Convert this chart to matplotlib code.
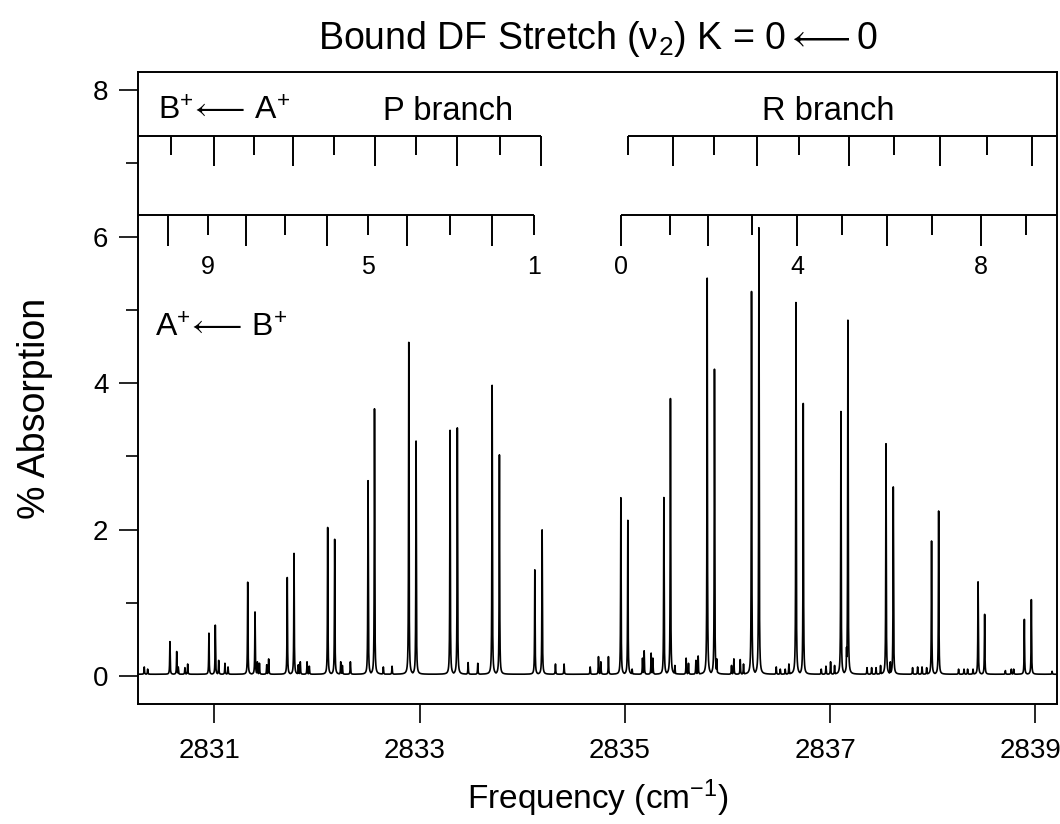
import numpy as np
import matplotlib
matplotlib.use('Agg')
import matplotlib.pyplot as plt
from matplotlib.transforms import ScaledTranslation

plt.rcParams['font.family'] = ['Liberation Sans', 'DejaVu Sans']
plt.rcParams['mathtext.fontset'] = 'custom'
plt.rcParams['mathtext.rm'] = 'Liberation Sans'
plt.rcParams['mathtext.it'] = 'Liberation Sans:italic'
plt.rcParams['mathtext.bf'] = 'Liberation Sans:bold'
plt.rcParams['mathtext.sf'] = 'Liberation Sans'
plt.rcParams['mathtext.fallback'] = 'stixsans'

# ---------------- data ----------------
peak_freq = [
    2830.318, 2830.351, 2830.568, 2830.634, 2830.649, 2830.714, 2830.741,
    2830.948, 2831.010, 2831.043, 2831.104, 2831.134,
    2831.326, 2831.397, 2831.420, 2831.440, 2831.511, 2831.530,
    2831.711, 2831.777, 2831.819, 2831.838, 2831.904, 2831.926,
    2832.105, 2832.173, 2832.232, 2832.248, 2832.326,
    2832.498, 2832.561, 2832.647, 2832.732,
    2832.895, 2832.966, 2833.297, 2833.368, 2833.473, 2833.567,
    2833.707, 2833.778, 2834.123, 2834.194, 2834.324, 2834.408,
    2834.662, 2834.743, 2834.766, 2834.840,
    2834.961, 2835.029, 2835.071, 2835.172, 2835.188, 2835.256, 2835.273,
    2835.380, 2835.444, 2835.487, 2835.597, 2835.620, 2835.692, 2835.714,
    2835.802, 2835.873, 2835.896, 2836.039, 2836.062, 2836.124, 2836.156,
    2836.234, 2836.306, 2836.475, 2836.514, 2836.562, 2836.598,
    2836.667, 2836.738, 2836.913, 2836.959, 2837.004, 2837.043,
    2837.105, 2837.160, 2837.173, 2837.359, 2837.404, 2837.447, 2837.491,
    2837.544, 2837.586, 2837.615, 2837.803, 2837.852, 2837.895, 2837.940,
    2837.988, 2838.057, 2838.251, 2838.304, 2838.339, 2838.392,
    2838.441, 2838.505, 2838.707, 2838.765, 2838.788,
    2838.892, 2838.960, 2839.162,
]
peak_height = [
    0.13, 0.10, 0.475, 0.34, 0.13, 0.12, 0.17,
    0.59, 0.70, 0.22, 0.18, 0.13,
    1.29, 0.88, 0.20, 0.18, 0.16, 0.24,
    1.35, 1.68, 0.16, 0.20, 0.20, 0.14,
    2.035, 1.876, 0.20, 0.15, 0.20,
    2.67, 3.65, 0.13, 0.14,
    4.57, 3.21, 3.37, 3.39, 0.19, 0.18,
    3.97, 3.03, 1.46, 2.00, 0.17, 0.17,
    0.13, 0.27, 0.20, 0.27,
    2.45, 2.13, 0.10, 0.25, 0.35, 0.32, 0.25,
    2.44, 3.80, 0.15, 0.25, 0.18, 0.22, 0.28,
    5.45, 4.19, 0.24, 0.15, 0.24, 0.23, 0.17,
    5.25, 6.12, 0.13, 0.10, 0.10, 0.17,
    5.10, 3.74, 0.10, 0.14, 0.20, 0.15,
    3.63, 0.40, 4.86, 0.12, 0.12, 0.12, 0.15,
    3.18, 0.20, 2.585, 0.12, 0.13, 0.13, 0.12,
    1.85, 2.26, 0.10, 0.10, 0.10, 0.10,
    1.29, 0.85, 0.08, 0.10, 0.10,
    0.78, 1.05, 0.07,
]
baseline = 0.03

# Assignment combs (rotational lines J)
upper_P = [2830.578, 2830.997, 2831.387, 2831.767, 2832.167,
           2832.566, 2832.966, 2833.366, 2833.785, 2834.184]   # P(10)..P(1), B+<-A+
upper_P_J = [10, 9, 8, 7, 6, 5, 4, 3, 2, 1]
upper_R = [2835.032, 2835.471, 2835.870, 2836.289, 2836.699,
           2837.186, 2837.625, 2838.073, 2838.531, 2838.970]   # R(0)..R(9)
upper_R_J = [0, 1, 2, 3, 4, 5, 6, 7, 8, 9]
lower_P = [2830.549, 2830.939, 2831.309, 2831.689, 2832.098,
           2832.498, 2832.878, 2833.297, 2833.706, 2834.115]   # P(10)..P(1), A+<-B+
lower_P_J = [10, 9, 8, 7, 6, 5, 4, 3, 2, 1]
lower_R = [2834.964, 2835.441, 2835.812, 2836.240, 2836.679,
           2837.117, 2837.556, 2837.994, 2838.472, 2838.910]   # R(0)..R(9)
lower_R_J = [0, 1, 2, 3, 4, 5, 6, 7, 8, 9]
labelled_P_J = [9, 5, 1]
labelled_R_J = [0, 4, 8]

x_ticks = [2831, 2833, 2835, 2837, 2839]
y_ticks = [0, 2, 4, 6, 8]

# ---------------- figure ----------------
W, H = 1060, 824
fig = plt.figure(figsize=(W / 100, H / 100), dpi=100)
ax = fig.add_axes([138.3 / W, 1 - 704.3 / H, (1057 - 138.3) / W, (704.3 - 72.3) / H])

xmin, xmax = 2830.26, 2839.21
ymin, ymax = -0.38, 8.24

# spectrum trace from the peak table (narrow Lorentzian line shape)
grid = np.linspace(xmin, xmax, 24000)
gamma = 0.0025
trace = np.full_like(grid, baseline)
for f, h in zip(peak_freq, peak_height):
    prof = baseline + (h - baseline) * gamma ** 2 / ((grid - f) ** 2 + gamma ** 2)
    trace = np.maximum(trace, prof)
ax.plot(grid, trace, color='black', lw=1.2, zorder=3)

# combs
lw_c = 1.4
def comb(pos, Js, yline, long_even, x_from, x_to):
    ax.plot([x_from, x_to], [yline[0], yline[0]], color='black', lw=lw_c,
            solid_capstyle='butt', zorder=2)
    for p, J in zip(pos, Js):
        is_long = (J % 2 == 0) == long_even
        ax.plot([p, p], [yline[0], yline[1] if is_long else yline[2]],
                color='black', lw=lw_c, solid_capstyle='butt', zorder=2)

upper_y = (7.374, 6.964, 7.114)
lower_y = (6.29, 5.87, 6.02)
comb(upper_P, upper_P_J, upper_y, False, xmin, upper_P[-1])
comb(upper_R, upper_R_J, upper_y, False, upper_R[0], xmax)
comb(lower_P, lower_P_J, lower_y, True, xmin, lower_P[-1])
comb(lower_R, lower_R_J, lower_y, True, lower_R[0], xmax)

for pos, Js, lab in ((lower_P, lower_P_J, labelled_P_J), (lower_R, lower_R_J, labelled_R_J)):
    for p, J in zip(pos, Js):
        if J in lab:
            ax.text(p, 5.49, str(J), ha='center', va='baseline', fontsize=18)

ax.text(2830.45, 7.59, r'B$^{+}\!{\longleftarrow}\,$A$^{+}$', ha='left', va='baseline', fontsize=23)
ax.text(2833.273, 7.59, 'P branch', ha='center', va='baseline', fontsize=23.5)
ax.text(2836.98, 7.59, 'R branch', ha='center', va='baseline', fontsize=23.5)
ax.text(2830.42, 4.63, r'A$^{+}\!{\longleftarrow}\,$B$^{+}$', ha='left', va='baseline', fontsize=23)

ax.set_xlim(xmin, xmax)
ax.set_ylim(ymin, ymax)
ax.set_xticks(x_ticks)
ax.set_xticklabels([str(t) for t in x_ticks])
ax.set_yticks(y_ticks)
ax.set_yticklabels([str(t) for t in y_ticks])
ax.set_yticks([1, 3, 5, 7], minor=True)
ax.tick_params(axis='both', which='major', direction='out', length=13.5, width=1.2,
               labelsize=20, color='black')
ax.tick_params(axis='x', which='major', pad=11)
ax.tick_params(axis='y', which='major', pad=8)
ax.tick_params(axis='y', which='minor', direction='out', length=8.5, width=1.2)
for s in ax.spines.values():
    s.set_linewidth(1.4)
shift = ScaledTranslation(-5 / 100, 0, fig.dpi_scale_trans)
for lab in ax.get_xticklabels():
    lab.set_transform(lab.get_transform() + shift)

fig.text(598 / W, 1 - 39 / H, r'Bound DF Stretch ($\mathrm{\nu}_2$) K = 0${\longleftarrow}$0',
         ha='center', va='center', fontsize=27)
fig.text(598 / W, 1 - 798 / H, r'Frequency (cm$^{-1}$)', ha='center', va='center', fontsize=24)
fig.text(35 / W, 1 - 408 / H, '% Absorption', ha='center', va='center', rotation=90, fontsize=27)

fig.savefig('out.png', dpi=100)
